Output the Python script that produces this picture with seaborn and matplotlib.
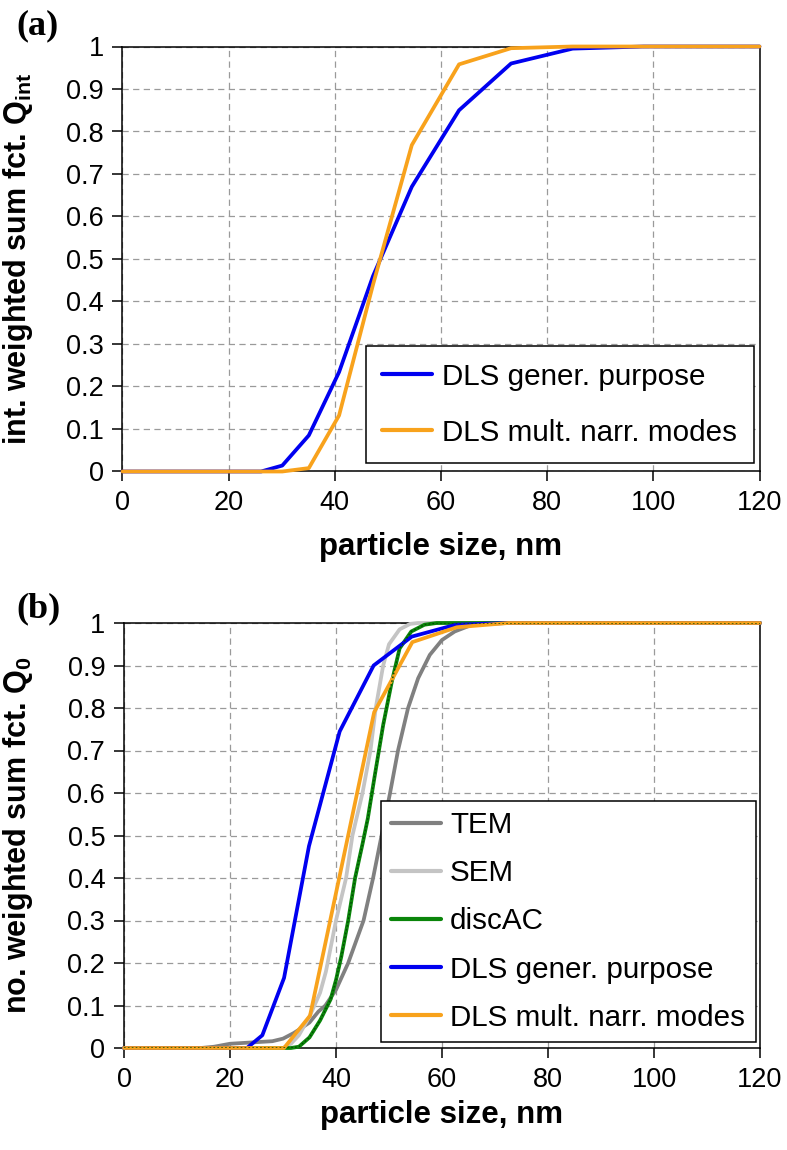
import numpy as np
import pandas as pd
import matplotlib
matplotlib.use('Agg')
import seaborn as sns
import matplotlib.pyplot as plt

# panel (a): intensity weighted sum functions
a_blue_x = [0, 26.1, 30.1, 35.1, 40.8, 47.2, 54.5, 63.4, 73.2, 84.8, 98.2, 120]
a_blue_y = [0, 0, 0.014, 0.085, 0.234, 0.46, 0.67, 0.85, 0.96, 0.995, 1.0, 1.0]
a_orange_x = [0, 30.1, 35.1, 40.8, 47.2, 54.5, 63.4, 73.2, 84.8, 120]
a_orange_y = [0, 0, 0.008, 0.132, 0.44, 0.768, 0.958, 0.996, 1.0, 1.0]

# panel (b): number weighted sum functions
tem_x = [0, 14.5, 17, 20, 24, 28, 30, 32, 33, 35, 36.7, 38, 40, 42.3, 45.2, 47, 48.6,
         50.2, 51.7, 53.6, 55.5, 57.7, 60, 62.4, 65.5, 68, 120]
tem_y = [0, 0, 0.003, 0.01, 0.013, 0.016, 0.022, 0.035, 0.043, 0.06, 0.086, 0.1, 0.137,
         0.2, 0.3, 0.4, 0.5, 0.6, 0.7, 0.8, 0.87, 0.925, 0.96, 0.98, 0.995, 1.0, 1.0]
sem_x = [0, 30, 31.5, 33, 35, 37, 38.1, 40, 41.9, 43.1, 45, 46.5, 47.5, 48.9, 50, 52, 54, 55.5, 120]
sem_y = [0, 0, 0.01, 0.03, 0.074, 0.13, 0.18, 0.30, 0.40, 0.50, 0.60, 0.70, 0.80, 0.90,
         0.95, 0.985, 0.998, 1.0, 1.0]
disc_x = [0, 31.5, 33, 35, 37, 39, 40, 41, 42.3, 43.6, 45, 46, 47.3, 48.9, 50.5, 52, 54.2,
          56.7, 59, 120]
disc_y = [0, 0, 0.003, 0.025, 0.065, 0.115, 0.16, 0.215, 0.3, 0.4, 0.48, 0.54, 0.64, 0.76,
          0.86, 0.94, 0.98, 0.996, 1.0, 1.0]
b_blue_x = [0, 23.2, 26.1, 30.2, 34.9, 40.7, 47.1, 54.3, 62.6, 72.5, 120]
b_blue_y = [0, 0, 0.03, 0.165, 0.475, 0.745, 0.9, 0.968, 0.996, 1.0, 1.0]
b_orange_x = [0, 30.2, 35.1, 40.6, 47.2, 54.4, 62.8, 72.5, 120]
b_orange_y = [0, 0, 0.076, 0.40, 0.79, 0.955, 0.99, 1.0, 1.0]

colors = {'TEM': '#808080', 'SEM': '#c4c4c4', 'discAC': '#0a850a',
          'DLS gener. purpose': '#0000f0', 'DLS mult. narr. modes': '#f8a21c'}


def make_df(series):
    rows = []
    for name, xs, ys in series:
        for x, y in zip(xs, ys):
            rows.append((name, x, y))
    return pd.DataFrame(rows, columns=['series', 'size', 'Q'])


df_a = make_df([('DLS gener. purpose', a_blue_x, a_blue_y),
                ('DLS mult. narr. modes', a_orange_x, a_orange_y)])
df_b = make_df([('TEM', tem_x, tem_y), ('SEM', sem_x, sem_y), ('discAC', disc_x, disc_y),
                ('DLS gener. purpose', b_blue_x, b_blue_y),
                ('DLS mult. narr. modes', b_orange_x, b_orange_y)])

sns.set_style('ticks')
plt.rcParams['font.family'] = ['Liberation Sans', 'DejaVu Sans']
plt.rcParams['axes.linewidth'] = 1.1
plt.rcParams['text.color'] = 'black'
plt.rcParams['axes.labelcolor'] = 'black'
plt.rcParams['mathtext.fontset'] = 'custom'
plt.rcParams['mathtext.rm'] = 'Liberation Sans:bold'
plt.rcParams['mathtext.bf'] = 'Liberation Sans:bold'
plt.rcParams['mathtext.default'] = 'bf'

fig = plt.figure(figsize=(7.87, 11.5), dpi=100)
ax_a = fig.add_axes([122.5 / 787, 1 - 471.5 / 1150, 637 / 787, 425 / 1150])
ax_b = fig.add_axes([124 / 787, 1 - 1048 / 1150, 636 / 787, 425 / 1150])

for ax, df in [(ax_a, df_a), (ax_b, df_b)]:
    for name in df['series'].unique():
        sub = df[df['series'] == name]
        sns.lineplot(data=sub, x='size', y='Q', ax=ax, color=colors[name], lw=2.7,
                     label=name, estimator=None, sort=False, clip_on=False, zorder=3)
        if name == 'discAC':
            sns.lineplot(data=sub, x='size', y='Q', ax=ax, color='#034a03', lw=1.0,
                         estimator=None, sort=False, zorder=3.1, legend=False)
            ax.lines[-1].set_linestyle((0, (1.2, 1.6)))
    ax.set_xlim(0, 120)
    ax.set_ylim(0, 1)
    ax.set_xticks(np.arange(0, 121, 20))
    ax.set_yticks(np.round(np.arange(0, 1.01, 0.1), 1))
    ax.set_yticklabels(['0'] + ['%.1f' % v for v in np.arange(0.1, 0.95, 0.1)] + ['1'])
    ax.tick_params(labelsize=19.5, length=7.5, width=1.1, direction='out', pad=6,
                   colors='black')
    ax.grid(True, color='#9a9a9a', ls=(0, (5, 3.5)), lw=0.9)
    for s in ax.spines.values():
        s.set_visible(True)
        s.set_color('black')
    ax.set_xlabel('particle size, nm', fontsize=22.5, fontweight='bold')

ax_a.set_ylabel(r'int. weighted sum fct. Q$_{int}$', fontsize=22, fontweight='bold')
ax_b.set_ylabel(r'no. weighted sum fct. Q$_{0}$', fontsize=22, fontweight='bold')
ax_a.yaxis.set_label_coords(-0.137, 0.5)
ax_b.yaxis.set_label_coords(-0.14, 0.5)
ax_a.xaxis.set_label_coords(0.5, -0.142)
ax_b.xaxis.set_label_coords(0.5, -0.122)

leg_a = ax_a.legend(loc='lower right', bbox_to_anchor=(0.991, 0.02), fontsize=21.3,
                    frameon=True, fancybox=False, edgecolor='black', framealpha=1,
                    handlelength=1.7, handletextpad=0.35, labelspacing=0.95,
                    borderpad=0.55, borderaxespad=0)
leg_b = ax_b.legend(loc='lower right', bbox_to_anchor=(0.993, 0.014), fontsize=21.3,
                    frameon=True, fancybox=False, edgecolor='black', framealpha=1,
                    handlelength=1.7, handletextpad=0.3, labelspacing=0.68,
                    borderpad=0.35, borderaxespad=0)
for leg in (leg_a, leg_b):
    leg.get_frame().set_linewidth(1.1)
    for h in leg.get_lines():
        h.set_linewidth(3)

fig.text(37 / 787, 1 - 26 / 1150, '(a)', family='Liberation Serif', fontweight='bold',
         fontsize=26, ha='center', va='center')
fig.text(39 / 787, 1 - 609 / 1150, '(b)', family='Liberation Serif', fontweight='bold',
         fontsize=26, ha='center', va='center')

fig.savefig('out.png', dpi=100)
